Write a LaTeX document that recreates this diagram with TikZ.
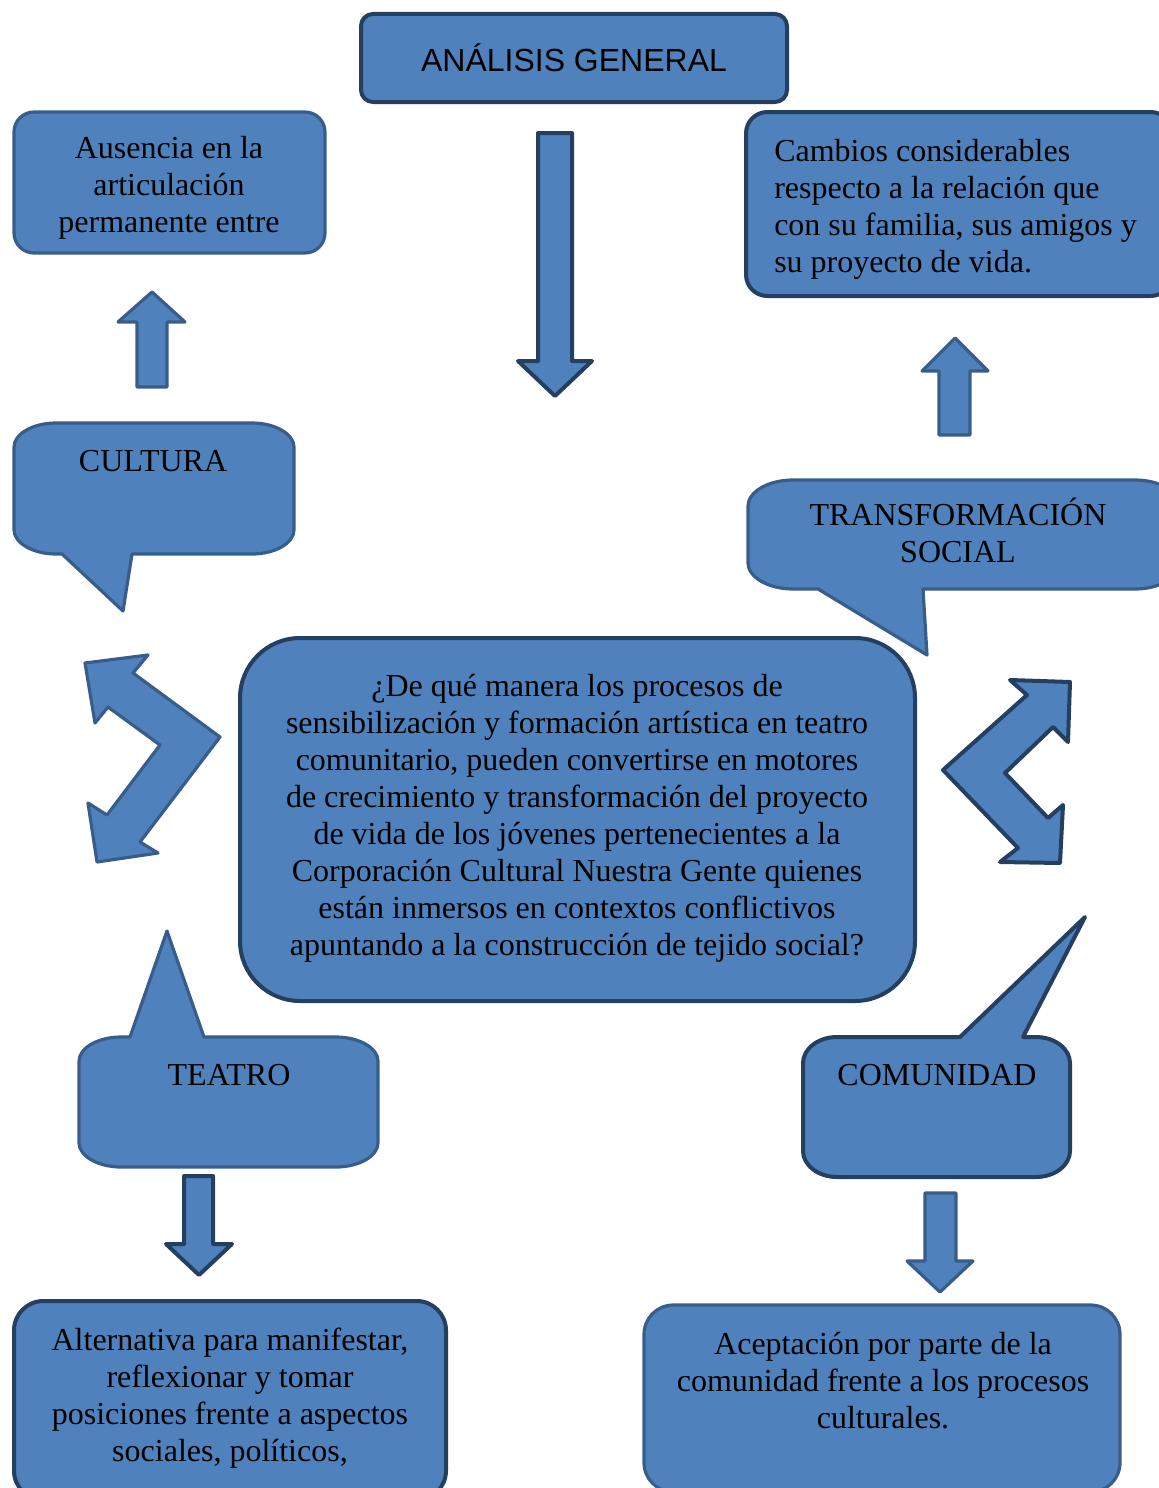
\documentclass[tikz,border=0pt]{standalone}
\usepackage{fontspec}
\setmainfont{Liberation Serif}
\newfontfamily\arialfont{Liberation Sans}
\definecolor{boxblue}{HTML}{4F81BD}
\definecolor{darkline}{HTML}{243F60}
\definecolor{midline}{HTML}{385D8A}
\tikzset{
  dkshape/.style={fill=boxblue, draw=darkline, line width=3pt, line join=round},
  ltshape/.style={fill=boxblue, draw=midline, line width=2.4pt, line join=round},
  lbl/.style={inner sep=0pt, align=center, font=\fontsize{24}{27.75}\selectfont}
}
\begin{document}
\begin{tikzpicture}[x=0.75pt,y=0.75pt,yscale=-1,xscale=1]
\useasboundingbox (0,0) rectangle (1159,1488);
\clip (0,0) rectangle (1159,1488);

%Rounded Rect: analisis general
\draw [dkshape, rounded corners=9pt] (361,14) rectangle (787,102) ;
%Down Arrow
\draw [dkshape] (538,133) -- (572,133) -- (572,361) -- (592,361) -- (555,396) -- (518,361) -- (538,361) -- cycle ;

%Rounded Rect: ausencia
\draw [ltshape, rounded corners=15pt] (14,112) rectangle (325,253) ;
%Up Arrow
\draw [ltshape] (137,387) -- (167,387) -- (167,322) -- (185,322) -- (152,292) -- (118,322) -- (137,322) -- cycle ;

%Rounded Rect: cambios
\draw [dkshape, rounded corners=16pt] (746,112) rectangle (1172,296) ;
%Up Arrow
\draw [ltshape] (939,435) -- (970,435) -- (970,371) -- (988,371) -- (955,338) -- (922,371) -- (939,371) -- cycle ;

%Callout: cultura
\draw [ltshape] (56,423) -- (252,423) .. controls (275,423) and (294,434) .. (294,447) -- (294,530) .. controls (294,543) and (275,554) .. (252,554) -- (132,554) -- (123,611) -- (62,554) -- (56,554) .. controls (33,554) and (14,543) .. (14,530) -- (14,447) .. controls (14,434) and (33,423) .. (56,423) -- cycle ;

%Callout: transformacion social
\draw [ltshape] (793,480) -- (1135,480) .. controls (1160,480) and (1180,492) .. (1180,506) -- (1180,563) .. controls (1180,577) and (1160,589) .. (1135,589) -- (923,589) -- (927,655) -- (818,589) -- (793,589) .. controls (768,589) and (748,577) .. (748,563) -- (748,506) .. controls (748,492) and (768,480) .. (793,480) -- cycle ;

%Bent double arrows
\draw [ltshape] (85,663) -- (148,655) -- (133,673) -- (220,737) -- (140,842) -- (158,853) -- (97,862) -- (88,803) -- (107,815) -- (160,745) -- (108,707) -- (95,723) -- cycle ;
\draw [dkshape] (1070,682) -- (1068,742) -- (1053,727) -- (1005,773) -- (1048,818) -- (1063,805) -- (1060,863) -- (1000,862) -- (1018,848) -- (943,770) -- (1027,695) -- (1010,680) -- cycle ;

%Rounded Rect: pregunta
\draw [dkshape, rounded corners=45pt] (240,638) rectangle (915,1001) ;

%Callout: teatro
\draw [ltshape] (121,1037) -- (130,1037) -- (167,931) -- (204,1037) -- (336,1037) .. controls (359,1037) and (378,1048) .. (378,1061) -- (378,1143) .. controls (378,1156) and (359,1167) .. (336,1167) -- (121,1167) .. controls (98,1167) and (79,1156) .. (79,1143) -- (79,1061) .. controls (79,1048) and (98,1037) .. (121,1037) -- cycle ;
%Down Arrow
\draw [dkshape] (184,1176) -- (213,1176) -- (213,1244) -- (232,1244) -- (199,1275) -- (166,1244) -- (184,1244) -- cycle ;

%Callout: comunidad
\draw [dkshape] (837,1037) -- (960,1037) -- (1085,917) -- (1023,1037) -- (1036,1037) .. controls (1055,1037) and (1070,1049) .. (1070,1063) -- (1070,1151) .. controls (1070,1165) and (1055,1177) .. (1036,1177) -- (837,1177) .. controls (818,1177) and (803,1165) .. (803,1151) -- (803,1063) .. controls (803,1049) and (818,1037) .. (837,1037) -- cycle ;
%Down Arrow
\draw [ltshape] (925,1193) -- (956,1193) -- (956,1261) -- (973,1261) -- (940,1292) -- (907,1261) -- (925,1261) -- cycle ;

%Rounded Rects: alternativa, aceptacion
\draw [dkshape, rounded corners=22pt] (14,1301) rectangle (446,1500) ;
\draw [ltshape, rounded corners=22pt] (644,1305) rectangle (1120,1492) ;

% Text Node
\draw (574,58) node [lbl, font=\arialfont\fontsize{24}{27.75}\selectfont] (analisis) {ANÁLISIS GENERAL};
% Text Node
\draw (169,188) node [lbl] (ausencia) {Ausencia en la\\articulación\\permanente entre};
% Text Node
\draw (774,209) node [lbl, anchor=west, align=left] (cambios) {Cambios considerables\\respecto a la relación que\\con su familia, sus amigos y\\su proyecto de vida.};
% Text Node
\draw (153,461) node [lbl] (cultura) {CULTURA};
% Text Node
\draw (958,530) node [lbl] (transformacion) {TRANSFORMACIÓN\\SOCIAL};
% Text Node
\draw (577,818) node [lbl] (pregunta) {¿De qué manera los procesos de\\sensibilización y formación artística en teatro\\comunitario, pueden convertirse en motores\\de crecimiento y transformación del proyecto\\de vida de los jóvenes pertenecientes a la\\Corporación Cultural Nuestra Gente quienes\\están inmersos en contextos conflictivos\\apuntando a la construcción de tejido social?};
% Text Node
\draw (229,1075) node [lbl] (teatro) {TEATRO};
% Text Node
\draw (937,1075) node [lbl] (comunidad) {COMUNIDAD};
% Text Node
\draw (230,1398) node [lbl] (alternativa) {Alternativa para manifestar,\\reflexionar y tomar\\posiciones frente a aspectos\\sociales, políticos,};
% Text Node
\draw (883,1381) node [lbl] (aceptacion) {Aceptación por parte de la\\comunidad frente a los procesos\\culturales.};

\end{tikzpicture}
\end{document}
